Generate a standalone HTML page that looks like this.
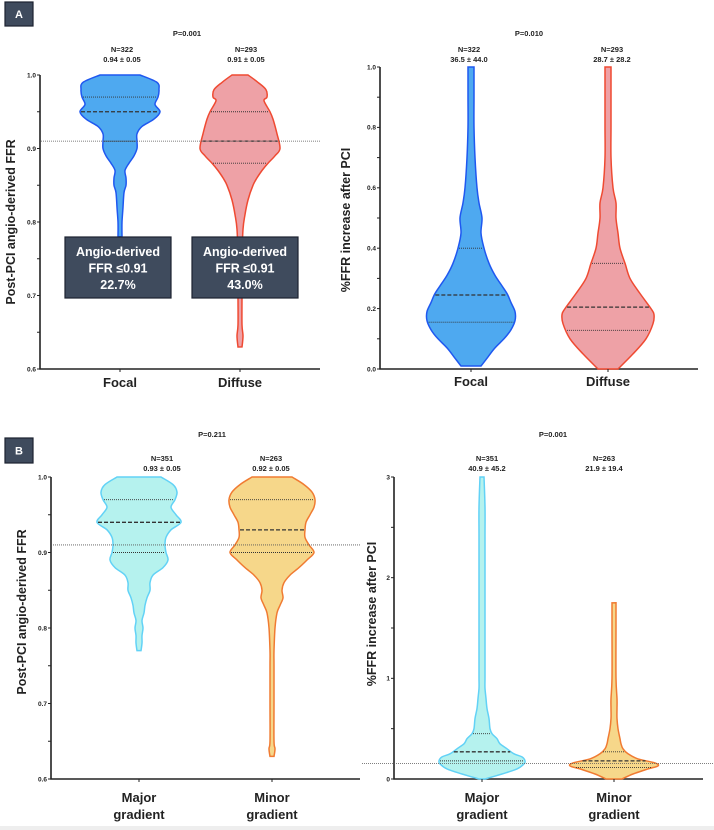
<!DOCTYPE html>
<html><head><meta charset="utf-8">
<style>
html,body{margin:0;padding:0;background:#fff;}
svg{display:block;font-family:"Liberation Sans",sans-serif;}
.t{font-weight:bold;fill:#222;}
</style></head>
<body>
<svg id="fig" width="714" height="830" viewBox="0 0 714 830">
<rect x="0" y="826" width="714" height="4" fill="#eeeeee"/>
</svg>
<script>
// ---------- Data ----------
const aLeftCats = ["Focal", "Diffuse"];
const aLeftTicks = ["0.6", "0.7", "0.8", "0.9", "1.0"];
const focalFfrY = [1.0,0.99,0.98,0.97,0.96,0.95,0.94,0.93,0.92,0.91,0.90,0.89,0.88,0.87,0.86,0.85,0.84,0.82,0.80,0.78];
const focalFfrD = [20,37,39,38,35,40,34,22,17,17,17,14,9,5,6,6,4,3,2,2];
const diffuseFfrY = [1.0,0.99,0.98,0.97,0.965,0.95,0.94,0.92,0.90,0.89,0.88,0.87,0.86,0.85,0.83,0.81,0.79,0.75,0.70,0.66,0.645,0.63];
const diffuseFfrD = [8,18,26,27,24,30,33,37,40,35,28,22,17,13,8,5,3,2,2,2,3,2];
const aLeftQuart = [[0.91,0.95,0.97],[0.88,0.91,0.95]];
const aRightCats = ["Focal", "Diffuse"];
const aRightTicks = ["0.0","0.2","0.4","0.6","0.8","1.0"];
const focalIncY = [0.01,0.04,0.07,0.10,0.13,0.16,0.19,0.22,0.25,0.28,0.31,0.35,0.40,0.45,0.50,0.55,0.60,0.70,0.80,0.90,1.0];
const focalIncD = [10,17,24,33,40,44,44,40,36,30,24,18,13,10,11,8,6,4,3,3,3];
const diffuseIncY = [0.0,0.05,0.10,0.15,0.18,0.20,0.25,0.30,0.35,0.40,0.45,0.50,0.55,0.60,0.70,0.80,0.90,1.0];
const diffuseIncD = [10,25,38,45,46,43,32,22,17,12,10,8,8,5,3,3,3,3];
const aRightQuart = [[0.155,0.245,0.40],[0.128,0.205,0.35]];
const bLeftCats = [["Major","gradient"],["Minor","gradient"]];
const majorFfrY = [1.0,0.99,0.98,0.97,0.96,0.95,0.94,0.93,0.92,0.91,0.90,0.89,0.88,0.87,0.86,0.85,0.84,0.83,0.82,0.81,0.80,0.79,0.78,0.77];
const majorFfrD = [22,34,38,36,32,37,42,32,27,26,27,29,24,14,11,11,8,6,5,3,4,3,3,2];
const minorFfrY = [1.0,0.99,0.98,0.97,0.96,0.95,0.94,0.93,0.92,0.91,0.90,0.89,0.88,0.87,0.86,0.85,0.84,0.83,0.82,0.80,0.77,0.75,0.70,0.65,0.64,0.63];
const minorFfrD = [20,32,40,43,42,38,34,33,33,37,42,35,27,18,12,10,11,8,5,3,2,2,2,2,3,2];
const bLeftQuart = [[0.90,0.94,0.97],[0.90,0.93,0.97]];
const bRightTicks = ["0","1","2","3"];
const majorIncY = [0.0,0.05,0.10,0.15,0.18,0.22,0.25,0.30,0.35,0.40,0.45,0.50,0.60,0.70,0.80,0.90,1.0,1.1,1.4,1.8,2.4,2.7,3.0];
const majorIncD = [3,20,35,42,43,40,32,25,18,15,10,8,7,5,4,3,3,3,3,3,3,3,2];
const minorIncY = [0.0,0.05,0.10,0.13,0.16,0.20,0.25,0.30,0.35,0.40,0.50,0.60,0.70,0.80,1.0,1.5,1.75];
const minorIncD = [8,19,34,44,41,24,14,9,7,6,4,3,3,3,2,2,2];
const bRightQuart = [[0.18,0.27,0.45],[0.115,0.18,0.27]];

// ---------- Drawing ----------
const NS = "http://www.w3.org/2000/svg";
const svg = document.getElementById("fig");
function mk(tag, attrs, parent) {
  const e = document.createElementNS(NS, tag);
  for (const k in attrs) e.setAttribute(k, attrs[k]);
  (parent || svg).appendChild(e);
  return e;
}
function txt(x, y, s, size, anchor, parent, rot) {
  const t = mk("text", {x: x, y: y, "font-size": size, "text-anchor": anchor || "middle", class: "t"}, parent);
  if (rot) t.setAttribute("transform", "rotate(-90 " + x + " " + y + ")");
  t.textContent = s;
  return t;
}
function smoothPath(pts) {
  let d = "M" + pts[0][0] + "," + pts[0][1];
  for (let i = 0; i < pts.length - 1; i++) {
    const p0 = pts[Math.max(0, i - 1)], p1 = pts[i], p2 = pts[i + 1], p3 = pts[Math.min(pts.length - 1, i + 2)];
    const c1 = [p1[0] + (p2[0] - p0[0]) / 6, p1[1] + (p2[1] - p0[1]) / 6];
    const c2 = [p2[0] - (p3[0] - p1[0]) / 6, p2[1] - (p3[1] - p1[1]) / 6];
    d += " C" + c1[0].toFixed(1) + "," + c1[1].toFixed(1) + " " + c2[0].toFixed(1) + "," + c2[1].toFixed(1) + " " + p2[0].toFixed(1) + "," + p2[1].toFixed(1);
  }
  return d;
}
function interpD(ys, ds, v) {
  for (let i = 0; i < ys.length - 1; i++) {
    const a = ys[i], b = ys[i + 1];
    if ((v <= a && v >= b) || (v >= a && v <= b)) {
      const t = (v - a) / (b - a);
      return ds[i] + t * (ds[i + 1] - ds[i]);
    }
  }
  return 2;
}

function panel(cfg) {
  const g = mk("g", {});
  
  
  const yS = v => cfg.y1 - (v - cfg.vmin) / (cfg.vmax - cfg.vmin) * (cfg.y1 - cfg.y0);
  const ax = mk("path", {d: "M" + cfg.ax + "," + cfg.y0 + " V" + cfg.y1 + " H" + cfg.axEnd, stroke: "#222", "stroke-width": 1.6, fill: "none"}, g);
  
  
  for (let v = cfg.vmin; v <= cfg.vmax + 1e-9; v += cfg.minor) {
    const y = yS(v);
    mk("line", {x1: cfg.ax - 3, x2: cfg.ax, y1: y, y2: y, stroke: "#222", "stroke-width": 1}, g);
  }
  cfg.ticks.forEach((lab) => {
    const v = parseFloat(lab);
    const t = txt(cfg.ax - 4, yS(v) + 2.3, lab, 6.5, "end", g);
    
    
  });
  const yt = txt(cfg.titleX, cfg.titleY, cfg.title, 12.5, "middle", g, true);
  
  
  cfg.series.forEach((s, i) => {
    const cx = cfg.cx[i];
    const right = s.ys.map((v, k) => [cx + s.ds[k], yS(v)]);
    const left = s.ys.map((v, k) => [cx - s.ds[k], yS(v)]).reverse();
    let d = smoothPath(right);
    d += " L" + left[0][0] + "," + left[0][1];
    d += smoothPath(left).replace(/^M[^C]*/, " ");
    d += " Z";
    const p = mk("path", {d: d, fill: s.fill, stroke: s.stroke, "stroke-width": 1.5}, g);
    
    
    s.q.forEach((qv, qi) => {
      const w = interpD(s.ys, s.ds, qv) - 1;
      const ql = mk("line", {x1: cx - w, x2: cx + w, y1: yS(qv), y2: yS(qv), stroke: "#333",
        "stroke-width": qi === 1 ? 1.3 : 0.9, "stroke-dasharray": qi === 1 ? "4,2" : "1,1"}, g);
      
      
    });
    mk("line", {x1: cx, x2: cx, y1: cfg.y1, y2: cfg.y1 + 3, stroke: "#222", "stroke-width": 1}, g);
    const labs = Array.isArray(cfg.cats[i]) ? cfg.cats[i] : [cfg.cats[i]];
    labs.forEach((l, li) => {
      const ct = txt(cx + (cfg.catDx || 0), cfg.catY + li * 17, l, 13, "middle", g);
      
      
    });
    const n1 = txt(cfg.nx[i], cfg.nY, s.n, 7.5, "middle", g);
    
    
    const n2 = txt(cfg.nx[i], cfg.nY + 10, s.stat, 7.5, "middle", g);
    
    
  });
  const th = mk("line", {x1: cfg.thX0, x2: cfg.thX1, y1: yS(cfg.th), y2: yS(cfg.th), stroke: "#555", "stroke-width": 0.8, "stroke-dasharray": "1,1"}, g);
  
  
  const pt = txt(cfg.px, cfg.pY, cfg.p, 7.5, "middle", g);
  
  
  return yS;
}

const cBlue = {fill: "#4ea9f0", stroke: "#1f58f0"};
const cRed = {fill: "#eea1a6", stroke: "#ef4a32"};
const cCyan = {fill: "#b5f2ee", stroke: "#62d2f6"};
const cOrange = {fill: "#f6d78a", stroke: "#f07b32"};

panel({name: "panel-a-ffr", ax: 40, axEnd: 320, y0: 75, y1: 369, vmin: 0.6, vmax: 1.0, minor: 0.05,
  ticks: aLeftTicks, title: "Post-PCI angio-derived FFR", titleX: 15, titleY: 222,
  cats: aLeftCats, cx: [120, 240], catY: 387, nx: [122, 246], nY: 52, p: "P=0.001", px: 187, pY: 36,
  th: 0.91, thX0: 41, thX1: 320,
  series: [
    Object.assign({id: "focal", ys: focalFfrY, ds: focalFfrD, q: aLeftQuart[0], n: "N=322", stat: "0.94 ± 0.05"}, cBlue),
    Object.assign({id: "diffuse", ys: diffuseFfrY, ds: diffuseFfrD, q: aLeftQuart[1], n: "N=293", stat: "0.91 ± 0.05"}, cRed)]});

panel({name: "panel-a-increase", ax: 380, axEnd: 698, y0: 67, y1: 369, vmin: 0, vmax: 1.0, minor: 0.1,
  ticks: aRightTicks, title: "%FFR increase after PCI", titleX: 350, titleY: 220,
  cats: aRightCats, cx: [471, 608], catY: 386, nx: [469, 612], nY: 52, p: "P=0.010", px: 529, pY: 36,
  th: -1, thX0: 0, thX1: 0,
  series: [
    Object.assign({id: "focal-increase", ys: focalIncY, ds: focalIncD, q: aRightQuart[0], n: "N=322", stat: "36.5 ± 44.0"}, cBlue),
    Object.assign({id: "diffuse-increase", ys: diffuseIncY, ds: diffuseIncD, q: aRightQuart[1], n: "N=293", stat: "28.7 ± 28.2"}, cRed)]});

panel({name: "panel-b-ffr", ax: 51, axEnd: 360, y0: 477, y1: 779, vmin: 0.6, vmax: 1.0, minor: 0.05,
  ticks: aLeftTicks, title: "Post-PCI angio-derived FFR", titleX: 26, titleY: 612,
  cats: bLeftCats, cx: [139, 272], catY: 802, nx: [162, 271], nY: 461, p: "P=0.211", px: 212, pY: 437,
  th: 0.91, thX0: 53, thX1: 360,
  series: [
    Object.assign({id: "major", ys: majorFfrY, ds: majorFfrD, q: bLeftQuart[0], n: "N=351", stat: "0.93 ± 0.05"}, cCyan),
    Object.assign({id: "minor", ys: minorFfrY, ds: minorFfrD, q: bLeftQuart[1], n: "N=263", stat: "0.92 ± 0.05"}, cOrange)]});

panel({name: "panel-b-increase", ax: 394, axEnd: 703, y0: 477, y1: 779, vmin: 0, vmax: 3, minor: 0.5,
  ticks: bRightTicks, title: "%FFR increase after PCI", titleX: 376, titleY: 614,
  cats: bLeftCats, cx: [482, 614], catY: 802, nx: [487, 604], nY: 461, p: "P=0.001", px: 553, pY: 437,
  th: 0.155, thX0: 362, thX1: 714,
  series: [
    Object.assign({id: "major-increase", ys: majorIncY, ds: majorIncD, q: bRightQuart[0], n: "N=351", stat: "40.9 ± 45.2"}, cCyan),
    Object.assign({id: "minor-increase", ys: minorIncY, ds: minorIncD, q: bRightQuart[1], n: "N=263", stat: "21.9 ± 19.4"}, cOrange)]});

function badge(x, y, w, h, s, name) {
  const g = mk("g", {});
  
  
  mk("rect", {x: x, y: y, width: w, height: h, fill: "#3f4b5d", stroke: "#1c2230", "stroke-width": 1.2}, g);
  const t = mk("text", {x: x + w / 2, y: y + h / 2 + 4, "font-size": 11, "text-anchor": "middle", fill: "#fff", "font-weight": "bold"}, g);
  t.textContent = s;
}
badge(5, 2, 28, 24, "A", "panel-a-badge");
badge(5, 438, 28, 25, "B", "panel-b-badge");

function infoBox(x, y, lines, name) {
  const g = mk("g", {});
  
  
  mk("rect", {x: x, y: y, width: 106, height: 61, fill: "#3f4b5d", stroke: "#1c2230", "stroke-width": 1.2}, g);
  lines.forEach((l, i) => {
    const t = mk("text", {x: x + 53, y: y + 19 + i * 16.5, "font-size": 12.5, "text-anchor": "middle", fill: "#fff", "font-weight": "bold"}, g);
    t.textContent = l;
  });
}
infoBox(65, 237, ["Angio-derived", "FFR ≤0.91", "22.7%"], "focal-info-box");
infoBox(192, 237, ["Angio-derived", "FFR ≤0.91", "43.0%"], "diffuse-info-box");
</script>
</body></html>
